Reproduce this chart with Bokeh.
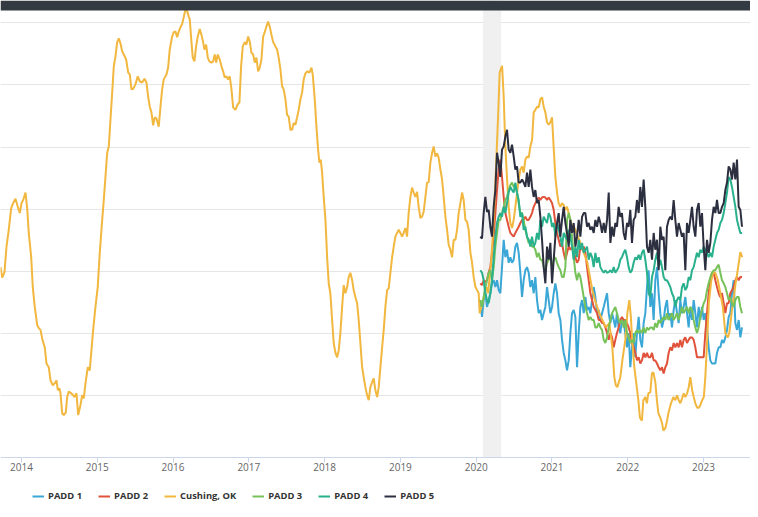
from bokeh.plotting import figure
from bokeh.models import Legend, LegendItem, FixedTicker, BoxAnnotation, Range1d
from bokeh.embed import file_html
from bokeh.resources import INLINE

# ---------------- data ----------------
tick_years = [2014, 2015, 2016, 2017, 2018, 2019, 2020, 2021, 2022, 2023]
tick_labels = ["2014", "2015", "2016", "2017", "2018", "2019", "2020", "2021", "2022", "2023"]
grid_values = [10, 20, 30, 40, 50, 60, 70]
band_start, band_end = 2020.09, 2020.33

cushing_x = [
    2013.723, 2013.745, 2013.776, 2013.802, 2013.832, 2013.864, 2013.890, 2013.921, 2013.951, 2013.978,
    2014.000, 2014.022, 2014.053, 2014.075, 2014.096, 2014.128, 2014.149, 2014.175, 2014.207, 2014.228,
    2014.251, 2014.277, 2014.307, 2014.330, 2014.360, 2014.383, 2014.413, 2014.439, 2014.462, 2014.479,
    2014.501, 2014.515, 2014.537, 2014.558, 2014.584, 2014.603, 2014.624, 2014.656, 2014.682, 2014.699,
    2014.726, 2014.748, 2014.778, 2014.801, 2014.822, 2014.844, 2014.875, 2014.901, 2014.920, 2014.946,
    2014.976, 2015.006, 2015.033, 2015.065, 2015.086, 2015.112, 2015.131, 2015.152, 2015.174, 2015.197,
    2015.218, 2015.240, 2015.263, 2015.284, 2015.306, 2015.329, 2015.350, 2015.381, 2015.408, 2015.429,
    2015.451, 2015.474, 2015.504, 2015.534, 2015.561, 2015.592, 2015.623, 2015.649, 2015.672, 2015.693,
    2015.715, 2015.737, 2015.759, 2015.781, 2015.811, 2015.834, 2015.856, 2015.877, 2015.913, 2015.935,
    2015.956, 2015.988, 2016.009, 2016.032, 2016.054, 2016.075, 2016.098, 2016.120, 2016.141, 2016.164,
    2016.186, 2016.207, 2016.220, 2016.243, 2016.260, 2016.282, 2016.304, 2016.326, 2016.352, 2016.374,
    2016.397, 2016.414, 2016.437, 2016.458, 2016.480, 2016.507, 2016.529, 2016.550, 2016.569, 2016.590,
    2016.616, 2016.639, 2016.661, 2016.682, 2016.704, 2016.727, 2016.748, 2016.771, 2016.793, 2016.823,
    2016.854, 2016.876, 2016.898, 2016.920, 2016.946, 2016.968, 2016.991, 2017.012, 2017.034, 2017.057,
    2017.078, 2017.100, 2017.123, 2017.144, 2017.166, 2017.189, 2017.210, 2017.232, 2017.255, 2017.276,
    2017.298, 2017.321, 2017.351, 2017.373, 2017.394, 2017.417, 2017.439, 2017.460, 2017.483, 2017.505,
    2017.526, 2017.549, 2017.571, 2017.592, 2017.615, 2017.637, 2017.658, 2017.681, 2017.703, 2017.724,
    2017.747, 2017.773, 2017.800, 2017.826, 2017.843, 2017.870, 2017.892, 2017.914, 2017.931, 2017.949,
    2017.967, 2017.988, 2018.011, 2018.033, 2018.054, 2018.076, 2018.099, 2018.120, 2018.143, 2018.165,
    2018.186, 2018.208, 2018.231, 2018.252, 2018.274, 2018.297, 2018.318, 2018.340, 2018.363, 2018.384,
    2018.406, 2018.429, 2018.450, 2018.472, 2018.495, 2018.516, 2018.538, 2018.561, 2018.582, 2018.604,
    2018.627, 2018.648, 2018.670, 2018.693, 2018.714, 2018.736, 2018.759, 2018.780, 2018.802, 2018.825,
    2018.846, 2018.868, 2018.891, 2018.912, 2018.934, 2018.956, 2018.978, 2019.000, 2019.022, 2019.043,
    2019.066, 2019.088, 2019.109, 2019.132, 2019.154, 2019.175, 2019.198, 2019.220, 2019.241, 2019.264,
    2019.286, 2019.307, 2019.330, 2019.352, 2019.373, 2019.396, 2019.418, 2019.439, 2019.462, 2019.484,
    2019.505, 2019.528, 2019.550, 2019.571, 2019.594, 2019.616, 2019.637, 2019.660, 2019.682, 2019.703,
    2019.726, 2019.748, 2019.769, 2019.792, 2019.814, 2019.835, 2019.858, 2019.880, 2019.901, 2019.924,
    2019.946, 2019.967, 2019.990, 2020.012, 2020.033, 2020.046, 2020.069, 2020.091, 2020.112, 2020.135,
    2020.157, 2020.178, 2020.200, 2020.222, 2020.244, 2020.266, 2020.289, 2020.310, 2020.342, 2020.363,
    2020.385, 2020.408, 2020.429, 2020.451, 2020.474, 2020.495, 2020.517, 2020.540, 2020.561, 2020.583,
    2020.606, 2020.627, 2020.649, 2020.672, 2020.693, 2020.715, 2020.738, 2020.759, 2020.781, 2020.804,
    2020.825, 2020.847, 2020.870, 2020.891, 2020.913, 2020.935, 2020.957, 2020.979, 2021.001, 2021.022,
    2021.045, 2021.067, 2021.088, 2021.111, 2021.133, 2021.154, 2021.177, 2021.199, 2021.220, 2021.243,
    2021.265, 2021.291, 2021.375, 2021.467, 2021.533, 2021.579, 2021.625, 2021.665, 2021.711, 2021.757,
    2021.797, 2021.823, 2021.843, 2021.863, 2021.902, 2021.929, 2021.968, 2021.995, 2022.021, 2022.041,
    2022.061, 2022.087, 2022.113, 2022.140, 2022.161, 2022.187, 2022.206, 2022.232, 2022.253, 2022.272,
    2022.298, 2022.319, 2022.338, 2022.364, 2022.385, 2022.404, 2022.430, 2022.453, 2022.470, 2022.496,
    2022.519, 2022.536, 2022.571, 2022.602, 2022.628, 2022.651, 2022.673, 2022.694, 2022.717, 2022.739,
    2022.760, 2022.784, 2022.805, 2022.826, 2022.850, 2022.871, 2022.892, 2022.916, 2022.938, 2022.958,
    2022.982, 2023.004, 2023.024, 2023.048, 2023.070, 2023.103, 2023.129, 2023.156, 2023.189, 2023.222,
    2023.255, 2023.288, 2023.321, 2023.340, 2023.375, 2023.401, 2023.420, 2023.446, 2023.467, 2023.485,
    2023.512,
]
cushing_y = [
    30.7, 29.0, 29.9, 34.0, 36.7, 40.2, 41.0, 41.7, 40.4, 39.4,
    41.0, 41.5, 42.7, 40.2, 36.2, 32.3, 27.5, 24.3, 21.4, 20.9,
    20.6, 19.0, 17.8, 15.2, 14.6, 12.5, 11.7, 12.0, 12.5, 10.9,
    11.2, 10.4, 7.2, 6.9, 7.3, 9.8, 10.7, 10.4, 10.1, 9.8,
    10.4, 6.9, 8.5, 10.1, 9.6, 12.0, 14.6, 14.1, 16.9, 20.6,
    24.3, 27.5, 33.0, 38.3, 41.5, 45.9, 49.1, 50.1, 54.4, 58.8,
    63.0, 64.6, 66.9, 67.5, 66.7, 65.4, 64.9, 64.1, 62.0, 61.7,
    59.3, 59.4, 60.1, 61.4, 60.6, 60.4, 61.0, 60.4, 58.1, 56.5,
    55.6, 53.5, 54.8, 54.6, 53.3, 56.5, 59.3, 60.9, 61.7, 62.8,
    65.7, 67.8, 68.5, 68.6, 67.7, 68.6, 69.3, 69.8, 70.9, 72.2,
    71.9, 71.0, 70.6, 66.9, 64.4, 63.8, 66.2, 67.8, 69.0, 68.1,
    66.9, 65.7, 66.5, 64.4, 63.8, 63.6, 63.8, 64.9, 63.6, 64.9,
    64.1, 63.0, 62.2, 61.2, 61.4, 60.9, 61.4, 59.3, 56.4, 56.0,
    56.9, 57.2, 63.0, 66.2, 66.9, 66.5, 67.8, 67.0, 65.2, 64.9,
    63.6, 64.4, 62.2, 62.8, 64.1, 67.8, 68.5, 69.4, 70.2, 69.4,
    68.1, 66.9, 66.2, 65.7, 64.4, 62.5, 59.8, 59.3, 57.7, 55.2,
    54.9, 52.8, 52.8, 53.9, 53.6, 54.8, 56.0, 57.7, 58.8, 60.9,
    61.9, 62.2, 62.0, 62.8, 61.7, 57.7, 53.3, 49.6, 47.5, 48.0,
    45.9, 42.0, 38.3, 32.3, 28.1, 26.5, 22.2, 18.5, 16.9, 16.2,
    17.3, 20.1, 24.3, 27.8, 26.5, 27.5, 29.1, 29.8, 28.6, 27.0,
    25.9, 24.9, 22.2, 18.5, 14.6, 13.0, 11.4, 10.1, 9.3, 11.4,
    12.2, 12.8, 10.9, 9.8, 11.4, 14.6, 17.8, 20.6, 24.3, 27.0,
    27.3, 29.8, 32.3, 34.0, 35.6, 36.2, 36.7, 36.2, 35.6, 36.2,
    37.0, 35.6, 39.4, 42.0, 43.5, 42.7, 42.0, 42.8, 40.4, 38.6,
    38.8, 39.6, 42.0, 44.3, 44.4, 47.5, 49.1, 50.1, 48.5, 49.0,
    48.3, 46.4, 44.8, 42.0, 38.8, 36.7, 34.3, 33.5, 32.3, 35.1,
    35.1, 36.7, 39.4, 41.0, 42.7, 41.5, 38.3, 38.0, 36.7, 33.0,
    31.4, 29.1, 27.5, 27.0, 26.5, 23.3, 24.3, 25.4, 26.5, 27.5,
    26.5, 29.1, 31.9, 36.2, 41.5, 48.0, 54.9, 62.0, 63.1, 58.1,
    50.1, 44.8, 40.4, 37.8, 37.0, 38.3, 40.4, 42.7, 44.8, 46.4,
    46.9, 45.9, 48.0, 48.5, 48.3, 50.1, 51.2, 55.6, 56.0, 56.5,
    56.4, 57.7, 58.0, 56.5, 55.6, 54.0, 53.6, 54.0, 54.8, 50.1,
    45.2, 42.7, 41.0, 40.4, 41.0, 40.7, 39.9, 40.4, 39.4, 38.3,
    37.2, 37.2, 34.6, 31.4, 27.0, 24.9, 23.3, 22.2, 21.0, 21.7,
    17.8, 13.0, 11.7, 11.4, 13.0, 15.7, 19.0, 23.3, 25.4, 22.7,
    18.5, 14.6, 12.0, 9.3, 6.5, 6.0, 9.3, 9.8, 8.8, 10.4,
    10.6, 13.6, 13.8, 12.2, 9.3, 7.2, 6.5, 5.6, 4.4, 4.8,
    6.0, 7.2, 8.8, 9.8, 9.3, 10.1, 9.3, 8.8, 9.6, 10.4,
    9.8, 10.4, 11.4, 13.0, 10.9, 9.8, 8.8, 8.1, 8.1, 8.5,
    9.3, 9.8, 13.0, 19.0, 24.9, 28.6, 29.9, 29.8, 28.6, 26.5,
    24.3, 20.1, 19.4, 20.1, 23.8, 25.9, 27.8, 29.8, 31.5, 33.1,
    32.3,
]

padd_x = [
    2020.055, 2020.077, 2020.099, 2020.121, 2020.143, 2020.165, 2020.187, 2020.209, 2020.231, 2020.253,
    2020.275, 2020.297, 2020.319, 2020.341, 2020.363, 2020.385, 2020.407, 2020.429, 2020.451, 2020.473,
    2020.495, 2020.517, 2020.539, 2020.561, 2020.583, 2020.605, 2020.627, 2020.649, 2020.671, 2020.693,
    2020.715, 2020.737, 2020.759, 2020.781, 2020.803, 2020.825, 2020.847, 2020.869, 2020.891, 2020.913,
    2020.935, 2020.957, 2020.979, 2021.001, 2021.023, 2021.045, 2021.067, 2021.089, 2021.111, 2021.133,
    2021.155, 2021.177, 2021.199, 2021.221, 2021.243, 2021.265, 2021.287, 2021.309, 2021.331, 2021.353,
    2021.375, 2021.397, 2021.419, 2021.441, 2021.463, 2021.485, 2021.507, 2021.529, 2021.551, 2021.573,
    2021.595, 2021.617, 2021.639, 2021.661, 2021.683, 2021.705, 2021.727, 2021.749, 2021.771, 2021.793,
    2021.815, 2021.836, 2021.858, 2021.880, 2021.902, 2021.924, 2021.946, 2021.968, 2021.990, 2022.012,
    2022.034, 2022.056, 2022.078, 2022.100, 2022.122, 2022.144, 2022.166, 2022.188, 2022.210, 2022.232,
    2022.254, 2022.276, 2022.298, 2022.320, 2022.342, 2022.364, 2022.386, 2022.408, 2022.430, 2022.452,
    2022.474, 2022.496, 2022.518, 2022.540, 2022.562, 2022.584, 2022.606, 2022.628, 2022.650, 2022.672,
    2022.694, 2022.716, 2022.738, 2022.760, 2022.782, 2022.804, 2022.826, 2022.848, 2022.870, 2022.892,
    2022.914, 2022.936, 2022.958, 2022.980, 2023.002, 2023.024, 2023.046, 2023.068, 2023.090, 2023.112,
    2023.134, 2023.156, 2023.178, 2023.200, 2023.222, 2023.244, 2023.266, 2023.288, 2023.310, 2023.332,
    2023.354, 2023.376, 2023.398, 2023.420, 2023.442, 2023.464, 2023.486, 2023.508,
]

padd1 = [
    25.4, 22.7, 25.4, 26.5, 24.3, 25.4, 26.5, 28.1, 28.6, 27.5,
    28.6, 27.0, 26.5, 30.7, 35.1, 32.3, 33.5, 31.4, 32.3, 31.4,
    31.9, 34.0, 34.6, 33.0, 29.8, 25.9, 28.6, 30.2, 30.7, 29.8,
    27.5, 28.6, 26.5, 29.1, 25.4, 23.3, 23.8, 22.2, 23.3, 24.3,
    27.5, 25.4, 23.3, 24.3, 26.5, 28.1, 26.5, 23.3, 22.2, 19.0,
    16.9, 15.7, 14.1, 15.7, 20.1, 23.3, 23.8, 22.7, 14.6, 20.1,
    24.3, 25.4, 23.3, 25.9, 23.8, 24.3, 23.3, 25.4, 27.5, 25.9,
    23.3, 23.8, 22.2, 23.3, 24.3, 25.4, 26.5, 23.3, 21.7, 23.3,
    22.2, 21.0, 23.3, 21.0, 20.1, 22.2, 21.7, 20.1, 17.8, 20.1,
    14.6, 17.8, 20.1, 16.2, 20.1, 22.7, 19.0, 17.8, 21.7, 23.3,
    27.5, 30.2, 24.3, 26.5, 22.2, 28.6, 30.7, 26.5, 23.3, 21.0,
    22.2, 24.3, 25.4, 22.2, 23.3, 21.0, 23.8, 25.4, 23.3, 21.7,
    25.4, 23.3, 24.3, 25.9, 23.3, 21.0, 24.3, 22.2, 25.4, 23.3,
    21.0, 24.3, 22.2, 24.3, 22.2, 23.3, 21.0, 17.8, 15.7, 15.2,
    15.2, 15.2, 16.9, 17.8, 17.8, 19.0, 18.5, 19.4, 20.6, 22.7,
    23.3, 26.5, 28.6, 21.7, 20.6, 22.2, 19.4, 21.0,
]
padd2 = [
    28.1, 27.8, 28.6, 28.3, 28.6, 29.8, 30.7, 33.0, 35.6, 39.4,
    43.1, 46.4, 48.0, 45.2, 42.0, 39.4, 38.3, 37.2, 36.2, 35.9,
    35.6, 36.2, 36.7, 37.2, 37.8, 38.3, 38.3, 38.8, 38.3, 38.3,
    38.8, 39.4, 40.4, 41.0, 41.5, 41.9, 41.5, 41.9, 42.0, 41.9,
    41.5, 41.9, 41.5, 41.0, 39.9, 37.8, 36.2, 35.1, 34.0, 34.6,
    33.0, 31.9, 33.0, 34.0, 33.5, 34.0, 33.0, 32.3, 31.4, 31.9,
    34.0, 33.5, 34.0, 33.0, 30.7, 28.6, 26.5, 25.4, 24.3, 23.8,
    23.3, 22.2, 22.2, 21.7, 21.7, 21.0, 20.1, 19.0, 20.1, 19.4,
    17.8, 19.0, 20.1, 21.0, 22.2, 22.7, 22.2, 22.2, 21.7, 21.0,
    20.1, 18.5, 17.8, 16.9, 15.7, 16.2, 15.2, 15.7, 16.9, 16.2,
    16.9, 16.2, 16.2, 16.9, 15.7, 15.7, 15.2, 14.6, 14.1, 14.6,
    13.6, 14.6, 15.2, 16.9, 17.8, 17.3, 18.5, 17.8, 18.5, 17.8,
    19.0, 17.8, 19.0, 19.4, 18.5, 19.0, 19.4, 19.4, 19.0, 17.8,
    16.2, 16.2, 16.2, 16.2, 16.2, 20.1, 23.3, 26.5, 28.6, 29.8,
    29.8, 28.6, 27.5, 26.5, 25.9, 26.5, 24.9, 23.3, 24.9, 24.9,
    26.5, 27.0, 27.5, 28.6, 29.1, 28.6, 29.1, 29.1,
]
padd3 = [
    25.4, 24.3, 25.9, 27.5, 28.6, 29.8, 30.2, 28.6, 30.7, 34.0,
    36.2, 38.3, 38.3, 39.4, 40.4, 41.5, 42.0, 43.1, 43.9, 44.3,
    43.6, 43.6, 42.7, 41.0, 39.4, 39.4, 38.3, 36.7, 35.6, 34.6,
    35.1, 34.0, 34.0, 33.5, 32.3, 33.0, 31.9, 31.9, 30.7, 30.2,
    31.4, 31.9, 32.3, 30.7, 31.9, 32.3, 31.4, 30.7, 30.2, 29.1,
    29.1, 30.7, 38.3, 39.4, 38.3, 35.6, 32.3, 29.8, 28.6, 29.8,
    29.1, 27.5, 25.9, 24.3, 23.3, 22.2, 22.7, 22.2, 22.2, 21.0,
    21.0, 21.7, 21.0, 20.6, 19.0, 18.5, 19.4, 21.0, 22.2, 23.3,
    23.8, 24.3, 23.3, 22.2, 21.7, 22.2, 21.0, 22.2, 20.1, 19.4,
    18.5, 19.0, 18.5, 20.1, 20.6, 20.1, 20.6, 20.1, 21.0, 20.1,
    21.0, 20.6, 21.0, 21.0, 20.6, 21.7, 21.0, 22.2, 21.7, 22.2,
    22.7, 22.2, 23.3, 22.2, 22.7, 23.3, 22.2, 22.7, 23.3, 22.2,
    23.3, 24.3, 23.3, 23.8, 24.3, 23.3, 24.3, 23.8, 22.2, 21.0,
    20.1, 21.0, 22.7, 23.8, 24.9, 25.4, 27.0, 28.1, 29.1, 29.8,
    30.2, 30.2, 30.7, 31.1, 29.8, 28.6, 28.1, 27.5, 26.5, 25.4,
    25.9, 24.9, 24.3, 25.4, 25.9, 25.9, 24.3, 23.3,
]
padd4 = [
    30.2, 29.8, 28.6, 26.5, 25.4, 24.9, 26.5, 28.6, 32.3, 35.6,
    37.8, 38.8, 39.4, 38.8, 40.4, 39.4, 41.0, 42.7, 43.6, 43.1,
    42.7, 44.3, 42.7, 41.5, 38.8, 39.4, 36.7, 37.2, 35.6, 35.1,
    34.0, 35.6, 34.0, 34.6, 36.2, 35.1, 38.3, 37.2, 38.8, 38.3,
    37.8, 39.4, 38.8, 37.2, 37.8, 35.6, 37.8, 36.7, 35.6, 34.0,
    36.2, 35.6, 35.1, 36.7, 35.6, 34.0, 31.9, 34.0, 32.3, 35.1,
    33.5, 34.6, 33.0, 33.5, 34.0, 31.9, 33.0, 32.3, 30.7, 33.0,
    31.4, 32.3, 30.7, 30.2, 29.8, 30.2, 29.8, 29.9, 30.2, 29.8,
    30.7, 29.8, 30.2, 30.7, 31.9, 32.3, 33.0, 33.5, 32.3, 30.7,
    29.8, 30.2, 31.4, 32.3, 31.9, 32.7, 31.9, 33.0, 33.5, 31.9,
    29.8, 26.5, 25.9, 29.1, 30.2, 31.9, 33.0, 30.7, 31.9, 30.7,
    29.1, 28.6, 28.6, 28.1, 27.5, 26.5, 25.9, 24.3, 25.4, 25.9,
    25.4, 27.5, 28.1, 27.0, 27.5, 29.1, 28.6, 30.2, 30.7, 31.9,
    33.0, 32.3, 33.5, 33.0, 34.0, 33.5, 33.0, 32.3, 33.0, 32.3,
    34.0, 35.1, 36.2, 36.7, 37.8, 38.3, 39.4, 41.0, 42.7, 45.2,
    44.8, 43.6, 42.0, 40.4, 38.3, 37.2, 36.2, 36.2,
]
padd5 = [
    35.6, 35.3, 39.4, 42.0, 39.6, 39.9, 37.2, 35.6, 40.4, 43.1,
    49.1, 47.5, 45.2, 49.6, 50.1, 51.7, 52.8, 49.6, 49.1, 50.4,
    48.5, 46.4, 46.9, 44.3, 44.3, 44.8, 44.3, 43.6, 45.9, 43.6,
    46.4, 43.6, 42.0, 43.1, 41.0, 41.5, 38.8, 35.1, 30.7, 28.1,
    34.0, 31.9, 34.6, 28.1, 31.9, 35.6, 37.8, 39.4, 35.6, 38.3,
    40.4, 37.8, 36.2, 34.0, 38.3, 36.2, 37.8, 34.0, 35.6, 38.3,
    35.6, 38.8, 39.4, 39.4, 37.2, 37.8, 36.7, 37.2, 36.2, 38.3,
    37.2, 38.8, 37.8, 36.2, 37.8, 36.2, 38.3, 42.7, 34.6, 37.2,
    35.6, 37.8, 37.2, 40.4, 38.8, 39.4, 36.2, 35.1, 37.8, 37.2,
    39.9, 34.6, 38.3, 38.8, 41.5, 39.4, 43.6, 40.4, 44.8, 40.4,
    34.0, 33.0, 35.1, 31.9, 36.2, 33.5, 35.1, 30.2, 37.2, 35.1,
    35.6, 30.2, 37.2, 38.3, 38.8, 38.3, 41.5, 38.3, 35.6, 37.8,
    36.7, 35.6, 36.2, 30.2, 37.8, 36.2, 38.3, 40.4, 37.2, 35.6,
    39.9, 41.0, 37.2, 39.4, 34.0, 30.2, 35.1, 33.0, 34.6, 38.3,
    40.4, 39.4, 41.5, 39.4, 39.4, 40.4, 41.0, 43.1, 44.3, 46.9,
    46.4, 44.8, 47.5, 44.8, 48.0, 40.4, 39.9, 37.2,
]

series = [
    ("PADD 1", padd_x, padd1, "#3aa7d6"),
    ("PADD 2", padd_x, padd2, "#e1523a"),
    ("Cushing, OK", cushing_x, cushing_y, "#f1b73f"),
    ("PADD 3", padd_x, padd3, "#76c258"),
    ("PADD 4", padd_x, padd4, "#29b08c"),
    ("PADD 5", padd_x, padd5, "#2c2f3f"),
]

# ---------------- figure ----------------
# The frame covers the whole canvas; the x axis sits at value 0 inside it,
# leaving room below the axis for the legend.
p = figure(
    frame_width=750, frame_height=516,
    x_range=Range1d(2013.723, 2023.620),
    y_range=Range1d(-9.41, 73.59),
    output_backend="svg", toolbar_location=None,
    min_border_left=0, min_border_right=0, min_border_top=0, min_border_bottom=0,
    background_fill_color="white", border_fill_color="white",
)
p.outline_line_color = None

p.yaxis.visible = False
p.xgrid.visible = False
p.ygrid.ticker = FixedTicker(ticks=grid_values)
p.ygrid.grid_line_color = "#e6e6e6"
p.ygrid.grid_line_width = 1

band = BoxAnnotation(left=band_start, right=band_end, bottom=0, fill_color="#f0f0f0",
                     fill_alpha=1.0, line_color=None, level="underlay")
p.add_layout(band)

xa = p.xaxis[0]
xa.fixed_location = 0
xa.ticker = FixedTicker(ticks=tick_years)
xa.major_label_overrides = {float(y): lab for y, lab in zip(tick_years, tick_labels)}
xa.axis_line_color = "#ccd6eb"
xa.major_tick_line_color = "#ccd6eb"
xa.major_tick_out = 5
xa.major_tick_in = 0
xa.minor_tick_line_color = None
xa.major_label_text_font = "Open Sans"
xa.major_label_text_font_size = "10px"
xa.major_label_text_color = "#666666"
xa.major_label_standoff = 0

items = []
for name, xs, ys, color in series:
    r = p.line(xs, ys, line_color=color, line_width=2)
    items.append(LegendItem(label=name, renderers=[r]))

# dark page header strip across the top of the chart
header = BoxAnnotation(bottom=71.98, fill_color="#343a41", fill_alpha=1.0,
                       line_color=None, level="overlay")
p.add_layout(header)

legend = Legend(
    items=items, orientation="horizontal", location=(32, 14),
    glyph_width=12, glyph_height=12, label_height=12, label_standoff=4, spacing=16,
    padding=5, margin=0,
    label_text_font="Open Sans", label_text_font_style="bold",
    label_text_font_size="9.4px", label_text_color="#333333",
    border_line_color=None, background_fill_alpha=0,
)
p.add_layout(legend)

open("out.html", "w").write(file_html(p, INLINE))
